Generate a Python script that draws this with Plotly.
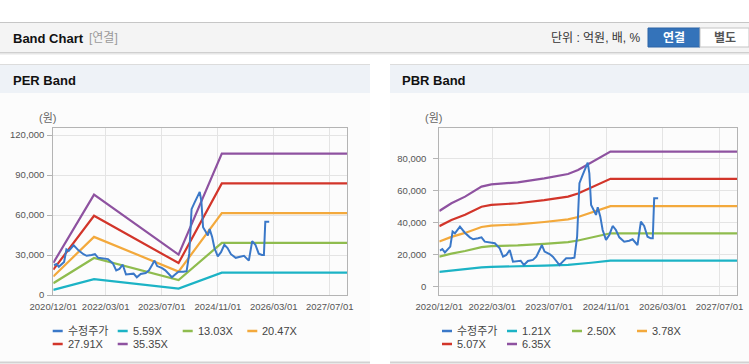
import plotly.graph_objects as go

W, H = 749, 364

# ---------------- data ----------------
x_tick_dates = ["2020-12-01", "2022-03-01", "2023-07-01", "2024-11-01", "2026-03-01", "2027-07-01"]
x_range = ["2020-12-01", "2027-12-01"]

per_band_dates = ["2020-12-01", "2021-11-20", "2023-11-25", "2024-12-05", "2027-12-01"]
per_559 = [3800, 11900, 4800, 16770, 16770]
per_1303 = [8860, 27750, 11180, 39090, 39090]
per_2047 = [13920, 43600, 17560, 61410, 61410]
per_2791 = [18980, 59450, 23950, 83730, 83730]
per_3535 = [24040, 75300, 30330, 106050, 106050]

pbr_band_dates = ["2020-12-01", "2021-03-15", "2021-07-10", "2021-11-28", "2022-02-20", "2022-10-05",
                  "2023-05-20", "2023-12-10", "2024-03-05", "2024-06-25", "2024-12-08", "2027-12-01"]
pbr_121 = [8971, 9884, 10678, 11869, 12146, 12386, 12862, 13377, 13853, 14726, 16035, 16035]
pbr_250 = [18535, 20423, 22063, 24523, 25095, 25590, 26575, 27638, 28623, 30425, 33130, 33130]
pbr_378 = [28025, 30879, 33359, 37078, 37944, 38692, 40181, 41788, 43277, 46003, 50093, 50093]
pbr_507 = [37589, 41417, 44743, 49732, 50893, 51897, 53894, 56049, 58046, 61702, 67188, 67188]
pbr_635 = [47079, 51873, 56039, 62287, 63741, 64999, 67501, 70199, 72701, 77280, 84150, 84150]

price_dates = [
    "2020-12-07", "2020-12-27", "2021-01-18", "2021-02-10", "2021-03-05", "2021-03-25", "2021-04-14",
    "2021-05-27", "2021-07-08", "2021-08-20", "2021-09-17", "2021-10-30", "2021-11-28", "2021-12-26",
    "2022-02-07", "2022-03-22", "2022-05-03", "2022-06-01", "2022-06-29", "2022-07-28", "2022-08-25",
    "2022-09-23", "2022-10-30", "2022-11-27", "2022-12-31", "2023-02-12", "2023-03-13", "2023-04-10",
    "2023-04-30", "2023-05-23", "2023-07-05", "2023-08-02", "2023-08-30", "2023-09-28", "2023-10-26",
    "2023-11-24", "2024-01-06", "2024-02-03", "2024-02-26", "2024-03-17", "2024-04-14", "2024-05-13",
    "2024-05-27", "2024-06-10", "2024-06-25", "2024-07-17", "2024-08-06", "2024-08-21", "2024-09-12",
    "2024-10-02", "2024-10-31", "2024-11-28", "2024-12-27", "2025-01-24", "2025-02-22", "2025-04-05",
    "2025-05-18", "2025-06-16", "2025-07-28", "2025-08-26", "2025-09-23", "2025-10-22", "2025-11-19",
    "2025-12-06", "2025-12-18", "2026-01-21"]
price = [
    22300, 23300, 21200, 22700, 24800, 34200, 33100,
    37300, 33500, 30600, 29400, 30000, 30600, 27900,
    27300, 26900, 23700, 18500, 19600, 22700, 15400,
    15800, 16000, 13300, 15800, 16500, 18500, 22700,
    25800, 21700, 20200, 18500, 15800, 13300, 15400,
    17500, 17500, 17900, 31000, 64400, 69600, 74800,
    77300, 70600, 50800, 47700, 44600, 49400, 43500,
    35200, 29000, 32100, 37700, 35200, 30600, 27900,
    28500, 29400, 25800, 40400, 37700, 31000, 30000,
    30000, 55000, 55000]

price_name = "수정주가"
per_names = ["5.59X", "13.03X", "20.47X", "27.91X", "35.35X"]
pbr_names = ["1.21X", "2.50X", "3.78X", "5.07X", "6.35X"]
per_ticks = [0, 30000, 60000, 90000, 120000]
pbr_ticks = [0, 20000, 40000, 60000, 80000]

price_color = "#3a78c8"
band_colors = ["#1cb3c5", "#8fbc4e", "#f3a93c", "#d2352a", "#8e52a0"]

# ---------------- helpers ----------------
def px(x):
    return x / W

def py(y):
    return 1 - y / H

FONT = "Liberation Sans, Arial, Noto Sans CJK KR, sans-serif"

fig = go.Figure()

per_series = [per_559, per_1303, per_2047, per_2791, per_3535]
pbr_series = [pbr_121, pbr_250, pbr_378, pbr_507, pbr_635]

for name, vals, col in zip(per_names, per_series, band_colors):
    fig.add_trace(go.Scatter(x=per_band_dates, y=vals, name=name, mode="lines",
                             line=dict(color=col, width=2.2), xaxis="x", yaxis="y",
                             showlegend=False, hoverinfo="skip"))
fig.add_trace(go.Scatter(x=price_dates, y=price, name=price_name, mode="lines",
                         line=dict(color=price_color, width=2), xaxis="x", yaxis="y",
                         showlegend=False))

for name, vals, col in zip(pbr_names, pbr_series, band_colors):
    fig.add_trace(go.Scatter(x=pbr_band_dates, y=vals, name=name, mode="lines",
                             line=dict(color=col, width=2.2), xaxis="x2", yaxis="y2",
                             showlegend=False, hoverinfo="skip"))
fig.add_trace(go.Scatter(x=price_dates, y=price, name=price_name, mode="lines",
                         line=dict(color=price_color, width=2), xaxis="x2", yaxis="y2",
                         showlegend=False))

grid = "#e4e4e4"
axline = "#b4b4b4"
tickfont = dict(family=FONT, size=9.5, color="#555555")

def xaxis(domain, anchor):
    return dict(domain=domain, anchor=anchor, type="date", range=x_range, automargin=False,
                tickvals=x_tick_dates, tickformat="%Y/%m/%d", showgrid=True, gridcolor=grid,
                showline=True, linecolor=axline, mirror=True, ticks="", zeroline=False,
                tickfont=tickfont, ticklabelstandoff=3, fixedrange=True)

def yaxis(domain, anchor, rng, tv, standoff):
    return dict(domain=domain, anchor=anchor, range=rng, tickvals=tv, tickformat=",d",
                automargin=False,
                showgrid=True, gridcolor=grid, showline=True, linecolor=axline, mirror=True,
                ticks="outside", ticklen=5, tickcolor=axline, zeroline=False,
                tickfont=tickfont, ticklabelstandoff=standoff, fixedrange=True)

ydom = [py(295), py(128)]
fig.update_layout(
    width=W, height=H, margin=dict(l=0, r=0, t=0, b=0, pad=0, autoexpand=False),
    paper_bgcolor="#ffffff", plot_bgcolor="#ffffff",
    font=dict(family=FONT, size=11, color="#444"),
    xaxis=xaxis([px(53.3), px(347.3)], "y"),
    yaxis=yaxis(ydom, "x", [0, 125250], per_ticks, 1),
    xaxis2=xaxis([px(439.3), px(737.3)], "y2"),
    yaxis2=yaxis(ydom, "x2", [-5440, 98940], pbr_ticks, 5),
    showlegend=False,
)

shapes = []
def rect(x0, y0, x1, y1, fill, line=None, lw=0, layer="below"):
    shapes.append(dict(type="rect", xref="paper", yref="paper", x0=px(x0), x1=px(x1),
                       y0=py(y1), y1=py(y0), fillcolor=fill,
                       line=dict(color=line or fill, width=lw), layer=layer))

def hline(x0, x1, y, color, lw=1, layer="below"):
    shapes.append(dict(type="line", xref="paper", yref="paper", x0=px(x0), x1=px(x1),
                       y0=py(y), y1=py(y), line=dict(color=color, width=lw), layer=layer))

# top header bar
rect(0, 22, 749, 52, "#f4f4f4")
hline(0, 749, 22.5, "#c6c6c6")
hline(0, 749, 52.5, "#cfcfcf")
hline(0, 749, 53.5, "#e6e6e6")
hline(0, 749, 54.5, "#f2f2f2")
# buttons
rect(648, 28, 700, 47, "#3473ba", "#2c64a6", 1)
rect(700, 28, 749, 47, "#ffffff", "#c4c4c4", 1)

# panels
for x0, x1 in [(0, 370), (390, 749)]:
    rect(x0, 64, x1, 362, "#fcfcfc")
    rect(x0, 64, x1, 93, "#eef2f7")
    hline(x0, x1, 64.5, "#dcdcdc")
    hline(x0, x1, 362.5, "#d2d2d2", 2)

annotations = []
def text(x, y, s, size=11, color="#444", xanchor="left", bold=False, family=FONT):
    if bold:
        s = "<b>" + s + "</b>"
    annotations.append(dict(x=px(x), y=py(y), xref="paper", yref="paper", text=s,
                            showarrow=False, xanchor=xanchor, yanchor="middle",
                            font=dict(family=family, size=size, color=color)))

text(11, 38.5, "Band Chart", 13, "#111", bold=True)
text(87, 38.5, "[연결]", 12, "#9a9a9a")
text(643, 38.5, "단위 : 억원, 배, %", 12, "#333", xanchor="right")
text(674, 38, "연결", 12, "#ffffff", xanchor="center", bold=True)
text(725, 38, "별도", 12, "#555555", xanchor="center", bold=True)

text(11, 80, "PER Band", 13, "#111", bold=True)
text(400, 80, "PBR Band", 13, "#111", bold=True)
text(47, 118, "(원)", 11, "#666", xanchor="center")
text(433, 118, "(원)", 11, "#666", xanchor="center")

# legends (built from the series names / colours)
def legend(x_cols, names, colors):
    rows = [331, 344]
    for i, (nm, col) in enumerate(zip(names, colors)):
        r, c = divmod(i, 4)
        xs = x_cols[c]
        y = rows[r]
        hline(xs, xs + 10, y, col, 2.5, layer="above")
        text(xs + 13, y, nm, 11, "#444")

legend([52.7, 117.7, 182.7, 247.3], [price_name] + per_names, [price_color] + band_colors)
legend([442, 507, 572, 637], [price_name] + pbr_names, [price_color] + band_colors)

fig.update_layout(shapes=shapes, annotations=annotations)
fig.write_html("out.html", config={"displayModeBar": False},
               post_script="document.body.style.margin='0';document.body.style.overflow='hidden';")
